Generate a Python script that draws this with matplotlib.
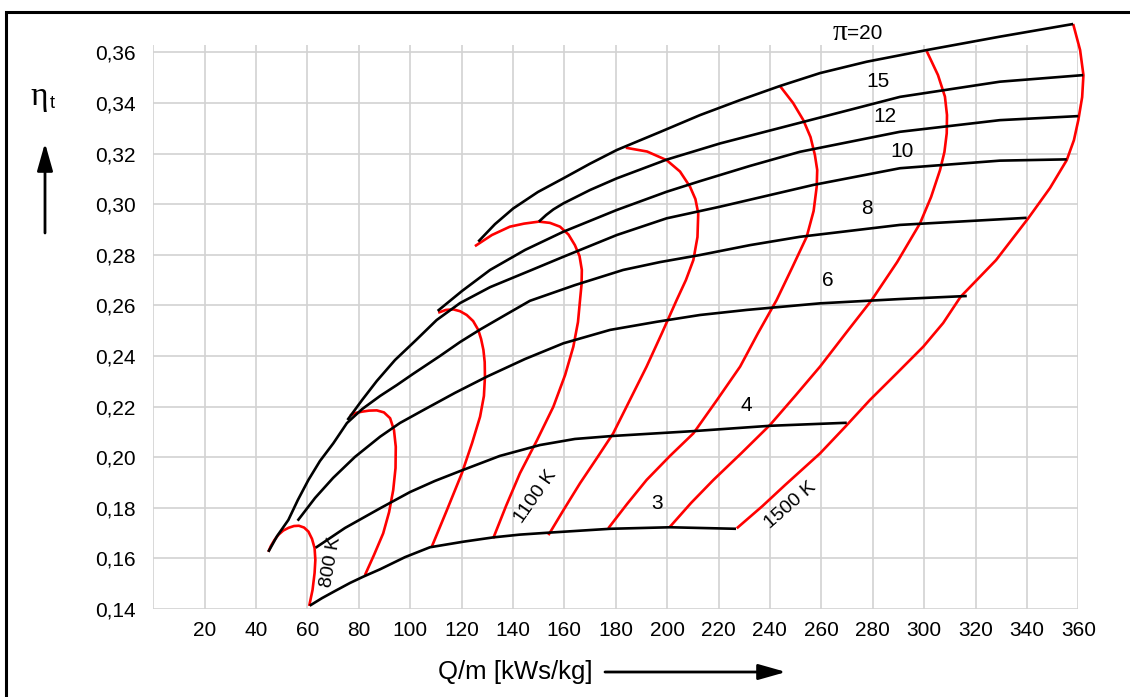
import numpy as np
import matplotlib
matplotlib.use("Agg")
import matplotlib.pyplot as plt
from matplotlib.patches import Rectangle, FancyArrowPatch

plt.rcParams['font.family'] = ['Liberation Sans', 'DejaVu Sans']
plt.rcParams['mathtext.fontset'] = 'stix'

# ---------------- data ----------------
# constant pressure-ratio lines (black)
pi3_x = [60.9, 65.7, 71.1, 76.6, 81.8, 88.3, 98.0, 107.7, 120.7, 132.3, 142.7, 154.4, 177.8, 201.1, 226.8]
pi3_y = [0.1413, 0.1443, 0.1473, 0.1503, 0.1528, 0.1557, 0.1605, 0.1644, 0.1666, 0.1683, 0.1694, 0.1702,
         0.1717, 0.1723, 0.1717]
pi4_x = [63.2, 74.6, 88.3, 99.9, 109.6, 119.4, 134.9, 150.5, 164.1, 179.0, 210.2, 239.9, 269.9]
pi4_y = [0.1642, 0.1720, 0.1798, 0.1862, 0.1906, 0.1945, 0.2005, 0.2048, 0.2072, 0.2084, 0.2103, 0.2124, 0.2136]
pi6_x = [56.2, 63.0, 70.0, 78.5, 88.3, 96.0, 105.1, 117.4, 129.8, 144.7, 159.6, 177.8, 195.9, 212.8, 231.0,
         259.5, 290.6, 316.6]
pi6_y = [0.1749, 0.1839, 0.1918, 0.2001, 0.2081, 0.2135, 0.2186, 0.2254, 0.2318, 0.2388, 0.2450, 0.2503,
         0.2535, 0.2562, 0.2582, 0.2608, 0.2625, 0.2637]
pi8_x = [44.8, 48.2, 52.6, 56.3, 60.4, 64.9, 70.1, 75.4, 81.3, 88.3, 94.8, 101.1, 111.6, 119.4, 127.3, 137.0,
         146.6, 164.1, 182.9, 197.2, 212.8, 232.2, 251.7, 290.6, 339.9]
pi8_y = [0.1626, 0.1688, 0.1752, 0.1831, 0.1910, 0.1985, 0.2055, 0.2135, 0.2190, 0.2242, 0.2285, 0.2329,
         0.2400, 0.2455, 0.2505, 0.2562, 0.2618, 0.2680, 0.2740, 0.2771, 0.2799, 0.2838, 0.2871, 0.2918, 0.2946]
pi10_x = [75.6, 81.3, 87.0, 94.1, 102.3, 110.3, 119.4, 131.1, 147.3, 159.6, 180.4, 199.8, 220.6, 256.9,
          290.6, 329.5, 355.5]
pi10_y = [0.2147, 0.2226, 0.2301, 0.2384, 0.2463, 0.2542, 0.2609, 0.2672, 0.2740, 0.2792, 0.2878, 0.2944,
          0.2990, 0.3076, 0.3142, 0.3172, 0.3177]
pi12_x = [110.7, 120.2, 131.1, 144.7, 159.6, 180.4, 199.8, 212.8, 232.2, 251.7, 290.6, 329.5, 360.0]
pi12_y = [0.2578, 0.2657, 0.2740, 0.2819, 0.2891, 0.2977, 0.3049, 0.3091, 0.3151, 0.3207, 0.3286, 0.3332, 0.3348]
pi15_x = [150.1, 152.9, 155.7, 159.6, 170.0, 180.4, 199.8, 220.6, 255.6, 290.6, 329.5, 361.9]
pi15_y = [0.2931, 0.2957, 0.2979, 0.3003, 0.3056, 0.3102, 0.3176, 0.3240, 0.3332, 0.3424, 0.3484, 0.3510]
pi20_x = [126.5, 133.0, 140.1, 149.7, 159.6, 170.0, 180.4, 197.2, 212.8, 228.3, 243.9, 259.5, 277.7, 301.0,
          329.5, 358.0]
pi20_y = [0.2852, 0.2921, 0.2983, 0.3048, 0.3102, 0.3160, 0.3214, 0.3285, 0.3352, 0.3411, 0.3467, 0.3518,
          0.3563, 0.3609, 0.3662, 0.3712]

# constant turbine inlet temperature lines (red)
t800_x = [60.7, 62.0, 62.8, 63.1, 62.8, 61.8, 60.4, 58.7, 56.7, 54.8, 52.7, 50.6, 48.8, 47.2, 45.8, 44.8]
t800_y = [0.1412, 0.1475, 0.1542, 0.1594, 0.1641, 0.1677, 0.1706, 0.1722, 0.1729, 0.1728, 0.1721, 0.1710,
          0.1694, 0.1673, 0.1649, 0.1626]
t900_x = [82.4, 85.9, 89.5, 91.8, 93.4, 94.3, 94.4, 93.7, 92.2, 89.8, 87.0, 84.0, 81.3, 78.9, 76.6]
t900_y = [0.1534, 0.1613, 0.1699, 0.1783, 0.1870, 0.1957, 0.2041, 0.2107, 0.2154, 0.2177, 0.2185, 0.2184,
          0.2180, 0.2175, 0.2165]
t1000_x = [108.4, 114.3, 120.1, 124.1, 127.2, 128.7, 129.1, 129.0, 128.5, 127.6, 126.5, 124.5, 122.0, 119.4,
           116.8, 113.9, 110.9]
t1000_y = [0.1646, 0.1791, 0.1936, 0.2056, 0.2160, 0.2242, 0.2318, 0.2376, 0.2424, 0.2467, 0.2503, 0.2538,
           0.2562, 0.2577, 0.2584, 0.2582, 0.2571]
t1100_x = [132.3, 137.3, 142.7, 149.4, 155.7, 160.3, 163.5, 165.3, 166.1, 166.7, 166.8, 165.9, 164.1, 161.6,
           158.3, 154.4, 150.1, 144.3, 138.8, 131.8, 125.2]
t1100_y = [0.1679, 0.1807, 0.1936, 0.2068, 0.2199, 0.2325, 0.2437, 0.2534, 0.2621, 0.2684, 0.2740, 0.2795,
           0.2838, 0.2880, 0.2911, 0.2926, 0.2931, 0.2923, 0.2911, 0.2878, 0.2834]
t1200_x = [153.8, 159.9, 166.1, 172.7, 179.0, 185.5, 192.0, 198.0, 203.7, 207.3, 210.2, 211.8, 212.1, 211.0,
           208.9, 205.0, 199.8, 192.2, 183.9]
t1200_y = [0.1692, 0.1795, 0.1897, 0.1997, 0.2094, 0.2226, 0.2358, 0.2491, 0.2621, 0.2700, 0.2779, 0.2870,
           0.2964, 0.3020, 0.3069, 0.3129, 0.3174, 0.3208, 0.3223]
t1300_x = [177.1, 184.4, 192.0, 201.1, 210.2, 219.4, 228.4, 235.4, 242.6, 248.6, 254.3, 257.0, 258.2, 258.4,
           257.5, 255.8, 253.0, 249.0, 243.9]
t1300_y = [0.1719, 0.1815, 0.1910, 0.2005, 0.2094, 0.2226, 0.2358, 0.2491, 0.2621, 0.2748, 0.2871, 0.2973,
           0.3069, 0.3135, 0.3194, 0.3265, 0.3332, 0.3400, 0.3467]
t1400_x = [201.1, 209.3, 218.0, 228.9, 240.0, 249.8, 259.5, 269.6, 279.6, 289.5, 298.4, 302.7, 306.2, 307.9,
           308.8, 308.9, 308.1, 305.4, 301.0]
t1400_y = [0.1725, 0.1819, 0.1910, 0.2016, 0.2127, 0.2242, 0.2358, 0.2491, 0.2621, 0.2771, 0.2924, 0.3028,
           0.3135, 0.3206, 0.3280, 0.3352, 0.3425, 0.3510, 0.3605]
t1500_x = [227.1, 237.0, 245.9, 259.5, 269.2, 278.9, 289.5, 299.7, 307.4, 314.2, 328.0, 340.5, 349.0, 355.5,
           358.3, 360.0, 361.5, 362.0, 360.7, 358.0]
t1500_y = [0.1719, 0.1806, 0.1890, 0.2015, 0.2119, 0.2226, 0.2333, 0.2437, 0.2530, 0.2634, 0.2779, 0.2944,
           0.3064, 0.3174, 0.3253, 0.3332, 0.3423, 0.3510, 0.3609, 0.3712]

x_ticks = list(range(0, 361, 20))
x_labels = [''] + [str(v) for v in range(20, 361, 20)]
y_ticks = [0.14, 0.16, 0.18, 0.20, 0.22, 0.24, 0.26, 0.28, 0.30, 0.32, 0.34, 0.36]
y_labels = ['0,14', '0,16', '0,18', '0,20', '0,22', '0,24', '0,26', '0,28', '0,30', '0,32', '0,34', '0,36']

pi_lines = [(pi3_x, pi3_y), (pi4_x, pi4_y), (pi6_x, pi6_y), (pi8_x, pi8_y),
            (pi10_x, pi10_y), (pi12_x, pi12_y), (pi15_x, pi15_y), (pi20_x, pi20_y)]
t_lines = [(t800_x, t800_y), (t900_x, t900_y), (t1000_x, t1000_y), (t1100_x, t1100_y),
           (t1200_x, t1200_y), (t1300_x, t1300_y), (t1400_x, t1400_y), (t1500_x, t1500_y)]

pi_labels = [('=20', 276.9, 0.3675), ('15', 282.2, 0.3484), ('12', 284.8, 0.3348),
             ('10', 291.3, 0.3207), ('8', 277.7, 0.2983), ('6', 262.7, 0.2700),
             ('4', 230.9, 0.2206), ('3', 195.9, 0.1815)]
pi_symbol = ('π', 267.4, 0.3678)
t_labels = [('800 K', 69.2, 0.1587, 80), ('1100 K', 149.0, 0.1844, 55), ('1500 K', 248.1, 0.1808, 41)]

# ---------------- figure ----------------
W, H = 1130, 697
fig = plt.figure(figsize=(W / 100, H / 100), dpi=100)
ax = fig.add_axes([153.2 / W, 1 - 609 / H, (1078.3 - 153.2) / W, (609 - 45) / H])
ax.set_xlim(0, 360)
ax.set_ylim(0.14, 0.3629)
for s in ax.spines.values():
    s.set_visible(False)
ax.set_xticks(x_ticks)
ax.set_xticklabels(x_labels, fontsize=15)
ax.set_yticks(y_ticks)
ax.set_yticklabels(y_labels, fontsize=15)
ax.tick_params(length=0)
ax.tick_params(axis='y', pad=12.5)
ax.tick_params(axis='x', pad=8.5)
ax.grid(True, color='#d2d2d2', lw=1.2)
ax.set_axisbelow(True)

for xs, ys in t_lines:
    ax.plot(xs, ys, color='#ff0000', lw=1.9, clip_on=False, solid_capstyle='butt',
            solid_joinstyle='round', zorder=3)
for xs, ys in pi_lines:
    ax.plot(xs, ys, color='black', lw=1.9, clip_on=False, solid_capstyle='butt',
            solid_joinstyle='round', zorder=4)

for txt, x, y in pi_labels:
    ax.text(x, y, txt, fontsize=15, ha='center', va='center', zorder=5)
ax.text(pi_symbol[1], pi_symbol[2], pi_symbol[0], fontsize=21, ha='center', va='center',
        family=['Liberation Serif', 'DejaVu Serif'], zorder=5)
for txt, x, y, r in t_labels:
    ax.text(x, y, txt, fontsize=14, ha='center', va='center', rotation=r,
            rotation_mode='anchor', zorder=5)

# axis titles and arrows
fig.text(515 / W, 1 - 672 / H, 'Q/m [kWs/kg]', fontsize=18.5, ha='center', va='center')
fig.text(39 / W, 1 - 97 / H, 'η', fontsize=24, ha='center', va='center',
         family=['Liberation Serif', 'DejaVu Serif'])
fig.text(52 / W, 1 - 104 / H, 't', fontsize=13, ha='center', va='center',
         family=['Liberation Sans', 'DejaVu Sans'])
astyle = dict(arrowstyle='-|>,head_length=0.6,head_width=0.17', lw=2, color='black',
              mutation_scale=28, shrinkA=0, shrinkB=0)
fig.add_artist(FancyArrowPatch((605 / W, 1 - 672 / H), (786 / W, 1 - 672 / H),
               transform=fig.transFigure, **astyle))
fig.add_artist(FancyArrowPatch((45 / W, 1 - 233 / H), (45 / W, 1 - 143 / H),
               transform=fig.transFigure, **astyle))

# outer frame
fig.add_artist(Rectangle((6 / W, -0.05), 1.2, 1.05 - 12 / H, transform=fig.transFigure,
                         fill=False, lw=2.2, ec='black'))

fig.savefig('out.png', dpi=100)
